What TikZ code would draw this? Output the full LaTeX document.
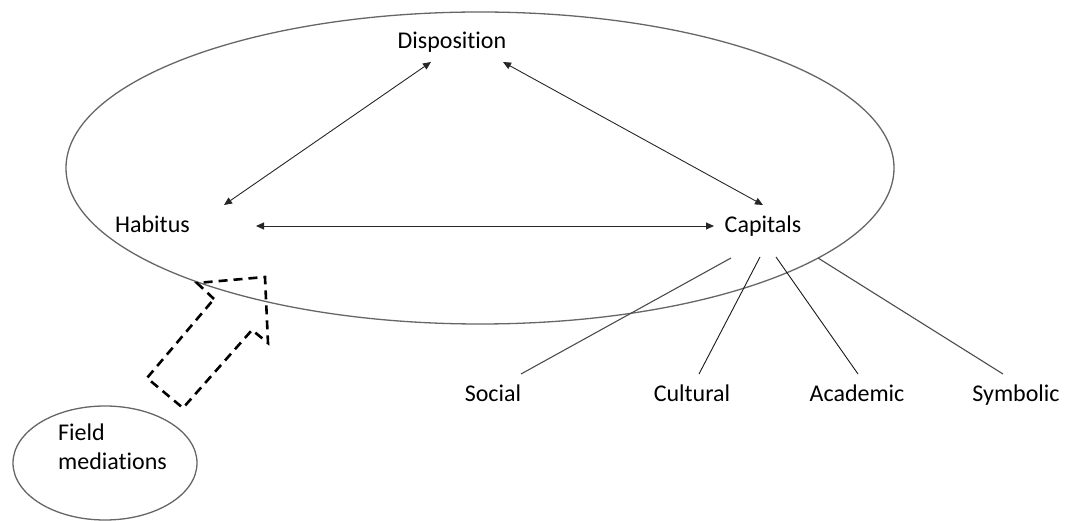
\documentclass[tikz,border=0pt]{standalone}
\usepackage{fontspec}
\setmainfont{Carlito}[RawFeature=-liga]
\usetikzlibrary{arrows.meta,shapes.geometric}
\begin{document}
\begin{tikzpicture}[x=1pt,y=-1pt,
  lbl/.style={font=\fontsize{24}{28}\selectfont, anchor=base, inner sep=0pt},
  rel/.style={draw=black!85, line width=0.9pt,
    {Triangle[length=8pt,width=7pt]}-{Triangle[length=8pt,width=7pt]}},
  rim/.style={draw=black!60, line width=1.3pt},
  branch/.style={draw=black!70, line width=1.1pt},
  push/.style={draw=black, line width=2.6pt, dash pattern=on 9pt off 6pt, line join=miter}]
\useasboundingbox (0,0) rectangle (1066,521);

% outer field and the mediating field
\node[rim, ellipse, minimum width=828pt, minimum height=312pt, inner sep=0pt] (field) at (480,168) {};
\node[rim, ellipse, minimum width=184pt, minimum height=114pt, inner sep=0pt] (med) at (105,463) {};

% labels
\node[lbl] (disp) at (452,49) {Disposition};
\node[lbl] (hab) at (152.5,233) {Habitus};
\node[lbl] (cap) at (763,233) {Capitals};
\node[lbl] (soc) at (493,402) {Social};
\node[lbl] (cul) at (692,402) {Cultural};
\node[lbl] (aca) at (857,402) {Academic};
\node[lbl] (sym) at (1016,402) {Symbolic};
\node[lbl, anchor=north west, align=left, font=\fontsize{24}{28.5}\selectfont] (fm) at (58,424) {Field\\mediations};

% arrow end points
\coordinate (dL) at (431,62);
\coordinate (dR) at (503,62);
\coordinate (hU) at (224,205);
\coordinate (hR) at (256,226);
\coordinate (cU) at (763,205);
\coordinate (cL) at (714,226);

\draw[rel] (dL) -- (hU);
\draw[rel] (dR) -- (cU);
\draw[rel] (hR) -- (cL);

% branches of capital
\coordinate (b1) at (731,258);
\coordinate (b2) at (760,257);
\coordinate (b3) at (776,257);
\coordinate (b4) at (818,258);
\coordinate (e1) at (521,374);
\coordinate (e2) at (699,374);
\coordinate (e3) at (858,374);
\coordinate (e4) at (1003,374);
\draw[branch] (b1) -- (e1);
\draw[branch, draw=black!90, line width=0.9pt] (b2) -- (e2);
\draw[branch, draw=black!90, line width=0.9pt] (b3) -- (e3);
\draw[branch] (b4) -- (e4);

% dashed block arrow from the mediating field
\coordinate (t0) at (197,283);
\coordinate (t1) at (265,277);
\coordinate (t2) at (268,343);
\coordinate (t3) at (252,330);
\coordinate (t4) at (183,408);
\coordinate (t5) at (147,378);
\coordinate (t6) at (214,299);
\draw[push] (t6) -- (t0) -- (t1) -- (t2) -- (t3) -- (t4) -- (t5) -- cycle;
\end{tikzpicture}
\end{document}
